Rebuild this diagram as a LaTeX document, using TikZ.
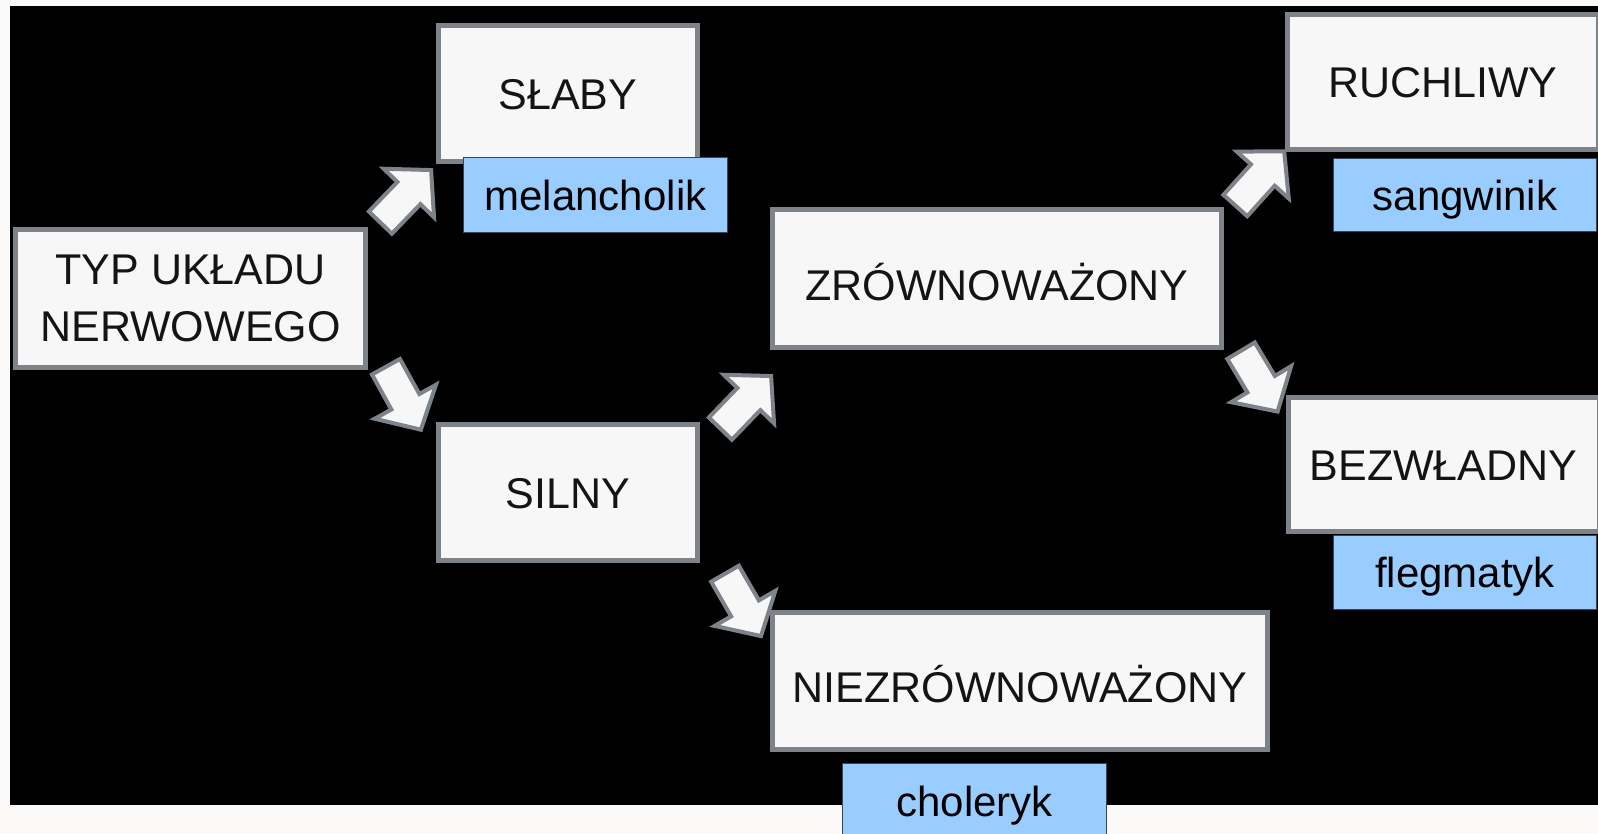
\documentclass[tikz,border=0pt]{standalone}
\usepackage{fontspec}
\setmainfont{Liberation Sans}
\definecolor{boxgrey}{RGB}{125,131,136}
\definecolor{boxfill}{RGB}{247,247,247}
\definecolor{lblfill}{RGB}{153,204,255}
\definecolor{lblline}{RGB}{50,70,90}
\definecolor{outbg}{RGB}{252,250,248}
\definecolor{txtc}{RGB}{20,20,20}
\newcommand\bigtxt{\fontsize{43}{57}\selectfont}
\newcommand\lbltxt{\fontsize{42}{50}\selectfont}
\tikzset{
  box/.style={draw=boxgrey, line width=5pt, fill=boxfill, inner sep=0pt,
    font=\bigtxt, text=txtc, align=center},
  onebox/.style={box, text height=31pt, text depth=0pt},
  accbox/.style={box, text height=43pt, text depth=0pt},
  lbl/.style={draw=lblline, line width=1pt, fill=lblfill, inner sep=0pt,
    font=\lbltxt, text=black, text height=30pt, text depth=0pt},
  arrowline/.style={draw=boxgrey, line width=4pt, fill=boxfill, line join=miter},
  pics/barrow/.style={code={
    \draw[arrowline] (2,-16) -- ({#1-35},-16) -- ({#1-35},-35) -- ({#1-3},0)
      -- ({#1-35},35) -- ({#1-35},16) -- (2,16) -- cycle;
  }}
}
\begin{document}
\begin{tikzpicture}[x=1pt,y=-1pt]
\useasboundingbox (0,0) rectangle (1598,833);
\clip (0,0) rectangle (1598,833);
\fill[outbg] (0,0) rectangle (1598,833);
\fill[black] (10,6) rectangle (1598,805);

% block arrows
\pic[rotate=46] at (379,224) {barrow=78};
\pic[rotate=-61] at (385,365) {barrow=77};
\pic[rotate=46] at (719,430) {barrow=78};
\pic[rotate=48] at (1234,207) {barrow=78};
\pic[rotate=-59] at (1240,349) {barrow=76};
\pic[rotate=-60] at (724,572) {barrow=77};

% boxes
\node[box, minimum width=350pt, minimum height=138pt] (typ) at (190.5,298.5) {TYP UKŁADU\\NERWOWEGO};
\node[onebox, minimum width=259pt, minimum height=136pt] (slaby) at (568,93.5) {SŁABY};
\node[onebox, minimum width=259pt, minimum height=136pt] (silny) at (568,492.5) {SILNY};
\node[accbox, minimum width=449pt, minimum height=138pt] (zrow) at (997,278.5) {ZRÓWNOWAŻONY};
\node[accbox, minimum width=495pt, minimum height=137pt] (niezrow) at (1020,681) {NIEZRÓWNOWAŻONY};
\node[onebox, minimum width=311pt, minimum height=135pt] (ruch) at (1443,82) {RUCHLIWY};
\node[onebox, minimum width=311pt, minimum height=134pt] (bezw) at (1443.5,464.5) {BEZWŁADNY};

% labels
\node[lbl, minimum width=264pt, minimum height=75pt] (mel) at (595.5,195) {melancholik};
\node[lbl, minimum width=263pt, minimum height=73pt] (sang) at (1465,195) {sangwinik};
\node[lbl, minimum width=263pt, minimum height=74pt] (fleg) at (1465,572.5) {flegmatyk};
\node[lbl, minimum width=264pt, minimum height=75pt] (chol) at (974.5,801) {choleryk};
\end{tikzpicture}
\end{document}
